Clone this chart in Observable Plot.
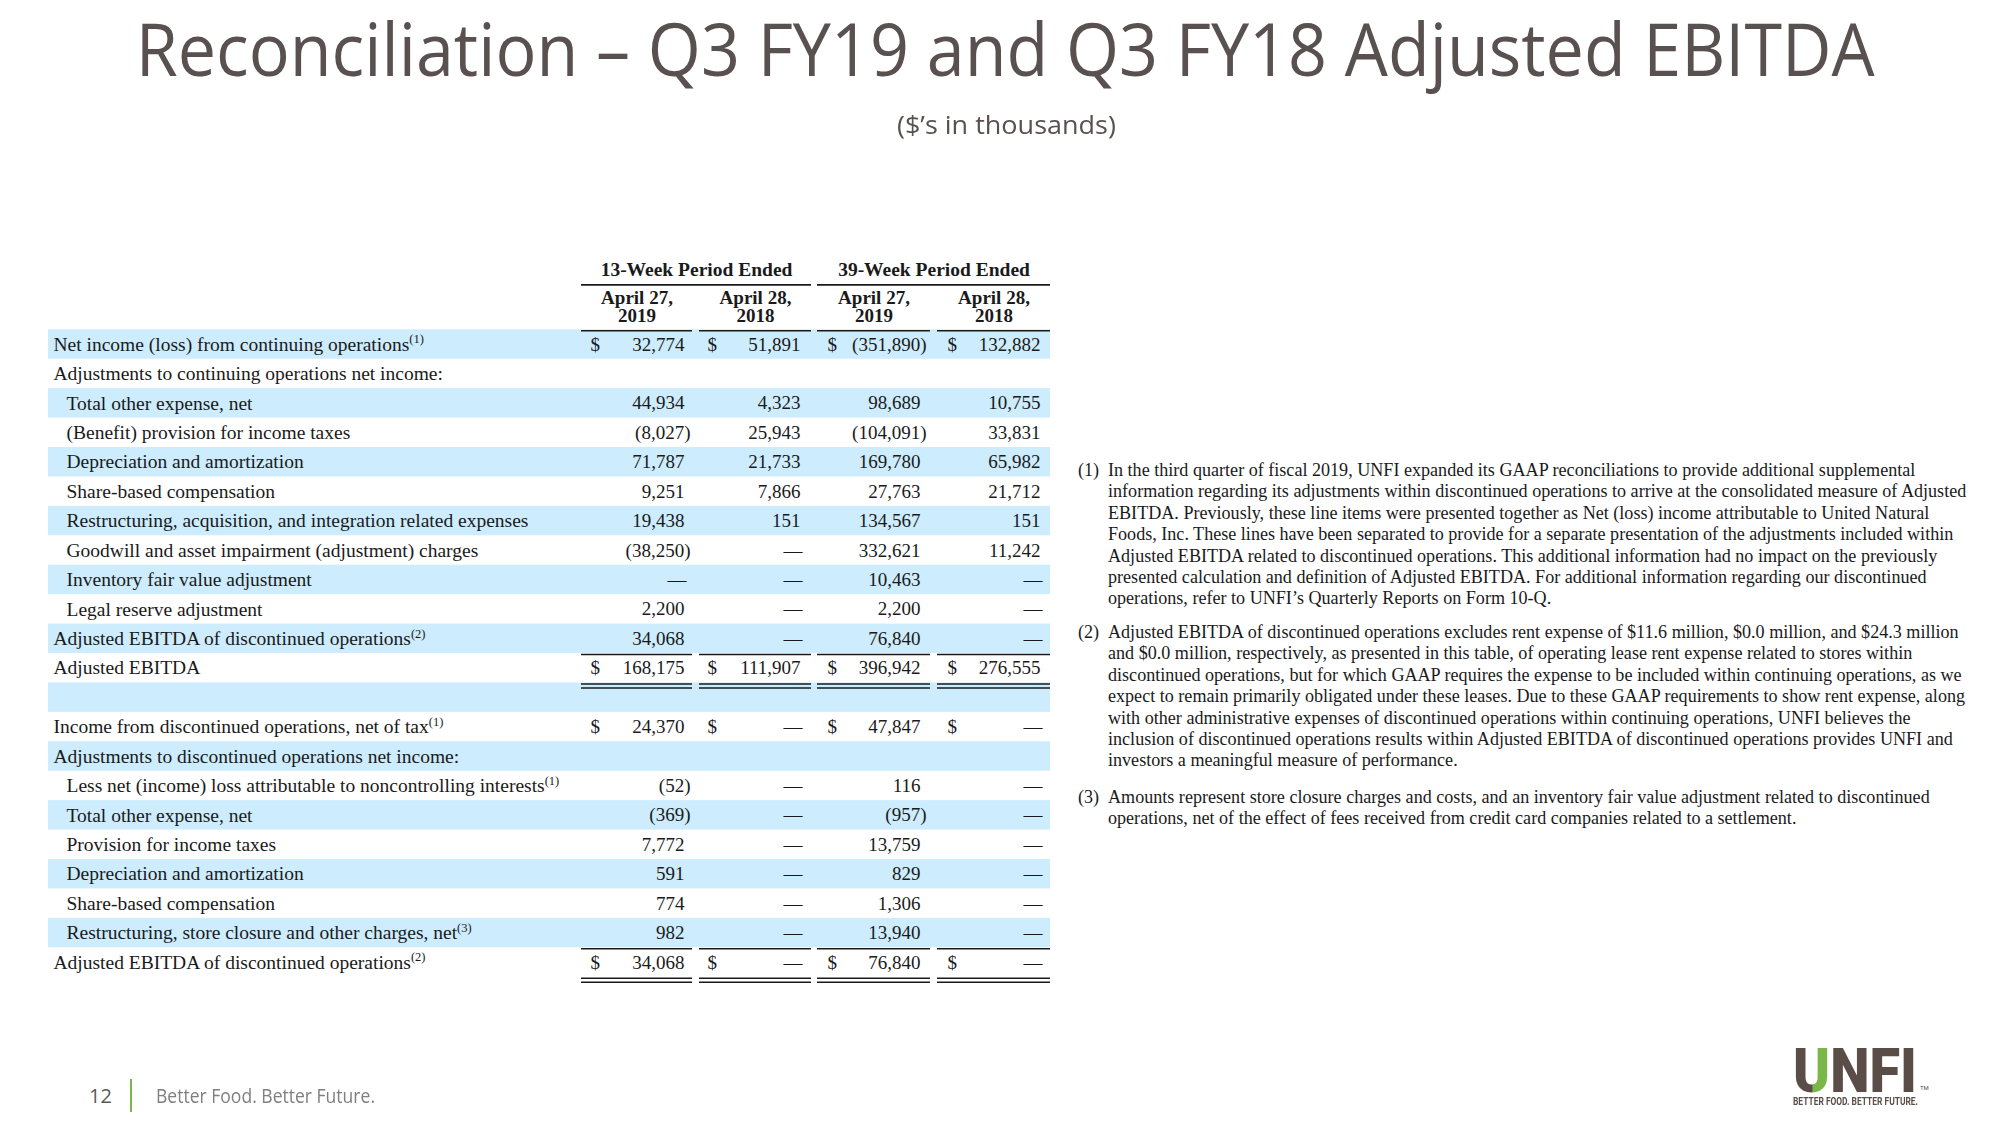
<!DOCTYPE html>
<html>
<head>
<meta charset="utf-8">
<script src="https://cdn.jsdelivr.net/npm/d3@7"></script>
<script src="https://cdn.jsdelivr.net/npm/@observablehq/plot@0.6"></script>
<style>
  html, body { margin: 0; padding: 0; background: #fff; overflow: hidden; }
  #page { position: relative; width: 2000px; height: 1125px; background: #fff; }
  .abs { position: absolute; white-space: nowrap; }
  .centerRow { position: absolute; left: 0; width: 2000px; text-align: center; line-height: 1; }
  .centerRow span { display: inline-block; white-space: nowrap; transform-origin: 50% 50%; }
  #title { font-family: "Open Sans", sans-serif; font-size: 74px; color: #595150; }
  #subtitle { font-family: "Open Sans", sans-serif; font-size: 26px; color: #595150; }
  #chart { position: absolute; left: 0; top: 160px; }
  .fn { position: absolute; font-family: "Liberation Serif", serif; font-size: 18.1px; color: #1a1a1a; line-height: 21.4px; white-space: nowrap; }
  .fnmark { position: absolute; }
  .foot { font-family: "Open Sans", sans-serif; font-size: 20px; line-height: 1; transform-origin: 0 50%; }
  .logo { font-family: Roboto, sans-serif; font-weight: 900; transform-origin: 0 50%; color: #5a4d47; }
</style>
</head>
<body>
<div id="page">
  <div class="centerRow" id="titleRow" style="top:11px;"><span id="title"></span></div>
  <div class="centerRow" id="subRow" style="top:111px;"><span id="subtitle"></span></div>
  <div id="chart"></div>
  <div id="notes"></div>
  <div class="abs foot" id="pageNum" style="left:89px; top:1086px; color:#595959;"></div>
  <div class="abs" style="left:130px; top:1079px; width:1.5px; height:33px; background:#7ab648;"></div>
  <div class="abs foot" id="tagline" style="left:156px; top:1086px; color:#7f7f7f;"></div>
  <div class="abs logo" id="logoMain" style="left:1793px; top:1049px; font-size:62px; line-height:44px;"></div>
  <div class="abs logo" id="logoTag" style="left:1793px; top:1097px; font-size:10px; line-height:9px; font-weight:700;"></div>
  <div class="abs" id="logoTm" style="left:1920px; top:1085px; font-family:Roboto; font-size:6px; line-height:6px; color:#5a4d47;">TM</div>
</div>
<script>
// ---------------- DATA ----------------
const titleText = "Reconciliation \u2013 Q3 FY19 and Q3 FY18 Adjusted EBITDA";
const subtitleText = "($\u2019s in thousands)";

const groupHeaders = ["13-Week Period Ended", "39-Week Period Ended"];
const dateHeaderLine1 = ["April 27,", "April 28,", "April 27,", "April 28,"];
const dateHeaderLine2 = ["2019", "2018", "2019", "2018"];

const rowLabels = [
  "Net income (loss) from continuing operations",
  "Adjustments to continuing operations net income:",
  "Total other expense, net",
  "(Benefit) provision for income taxes",
  "Depreciation and amortization",
  "Share-based compensation",
  "Restructuring, acquisition, and integration related expenses",
  "Goodwill and asset impairment (adjustment) charges",
  "Inventory fair value adjustment",
  "Legal reserve adjustment",
  "Adjusted EBITDA of discontinued operations",
  "Adjusted EBITDA",
  "",
  "Income from discontinued operations, net of tax",
  "Adjustments to discontinued operations net income:",
  "Less net (income) loss attributable to noncontrolling interests",
  "Total other expense, net",
  "Provision for income taxes",
  "Depreciation and amortization",
  "Share-based compensation",
  "Restructuring, store closure and other charges, net",
  "Adjusted EBITDA of discontinued operations"
];
const rowNotes = ["(1)","","","","","","","","","","(2)","","","(1)","","(1)","","","","","(3)","(2)"];
const rowIndent = [0,0,1,1,1,1,1,1,1,1,0,0,0,0,0,1,1,1,1,1,1,0];

// 0 = "—", null = blank
const q3FY19 = [32774, null, 44934, -8027, 71787, 9251, 19438, -38250, 0, 2200, 34068, 168175, null, 24370, null, -52, -369, 7772, 591, 774, 982, 34068];
const q3FY18 = [51891, null, 4323, 25943, 21733, 7866, 151, 0, 0, 0, 0, 111907, null, 0, null, 0, 0, 0, 0, 0, 0, 0];
const ytdFY19 = [-351890, null, 98689, -104091, 169780, 27763, 134567, 332621, 10463, 2200, 76840, 396942, null, 47847, null, 116, -957, 13759, 829, 1306, 13940, 76840];
const ytdFY18 = [132882, null, 10755, 33831, 65982, 21712, 151, 11242, 0, 0, 0, 276555, null, 0, null, 0, 0, 0, 0, 0, 0, 0];
const dollarRows = [0, 11, 13, 21];
const subtotalRows = [11, 21];

const footnotes = [
  {mark: "(1)", lines: [
    "In the third quarter of fiscal 2019, UNFI expanded its GAAP reconciliations to provide additional supplemental",
    "information regarding its adjustments within discontinued operations to arrive at the consolidated measure of Adjusted",
    "EBITDA. Previously, these line items were presented together as Net (loss) income attributable to United Natural",
    "Foods, Inc. These lines have been separated to provide for a separate presentation of the adjustments included within",
    "Adjusted EBITDA related to discontinued operations. This additional information had no impact on the previously",
    "presented calculation and definition of Adjusted EBITDA. For additional information regarding our discontinued",
    "operations, refer to UNFI\u2019s Quarterly Reports on Form 10-Q."
  ]},
  {mark: "(2)", lines: [
    "Adjusted EBITDA of discontinued operations excludes rent expense of $11.6 million, $0.0 million, and $24.3 million",
    "and $0.0 million, respectively, as presented in this table, of operating lease rent expense related to stores within",
    "discontinued operations, but for which GAAP requires the expense to be included within continuing operations, as we",
    "expect to remain primarily obligated under these leases. Due to these GAAP requirements to show rent expense, along",
    "with other administrative expenses of discontinued operations within continuing operations, UNFI believes the",
    "inclusion of discontinued operations results within Adjusted EBITDA of discontinued operations provides UNFI and",
    "investors a meaningful measure of performance."
  ]},
  {mark: "(3)", lines: [
    "Amounts represent store closure charges and costs, and an inventory fair value adjustment related to discontinued",
    "operations, net of the effect of fees received from credit card companies related to a settlement."
  ]}
];

const pageNumber = "12";
const taglineText = "Better Food. Better Future.";
const logoLetters = ["U", "NFI"];
const logoTagText = "BETTER FOOD. BETTER FUTURE.";

// ---------------- LAYOUT / STYLE ----------------
const ink = "#1a1a1a";
const shade = "#cdecfd";
const serif = "Liberation Serif, Times New Roman, serif";
const L = {
  rowTop: 169.3, rowBottom: 816.7,          // svg px of row -0.5 and 21.5
  bandX1: 48, bandX2: 1050,
  labelX: 53, indentX: 66,
  colRight: [684, 800, 920, 1040],
  colDollar: [590, 707, 827, 947],
  colLine: [[581, 692], [699, 811], [817, 930], [937, 1050]],
  groupLine: [[581, 811], [817, 1050]],
  parenHang: 6, dashHang: 2,
  yGroupText: -2.54, yGroupRule: -2.06, yDate1: -1.58, yDate2: -0.96, yDateRule: -0.5,
  labelFont: 19.5, numFont: 19, groupFont: 19.5, dateFont: 19, supFont: 12.5,
  fnMarkX: 1078, fnTextX: 1108, fnTops: [460, 622, 787]
};

// ---------------- BUILD ----------------
const columns = [q3FY19, q3FY18, ytdFY19, ytdFY18];
const rowIdx = rowLabels.map((_, i) => i);
const shadedRows = rowIdx.filter(i => i % 2 === 0);
const fmt = d3.format(",");

const cells = [];
columns.forEach((col, c) => col.forEach((v, r) => { if (v !== null) cells.push({r, c, v}); }));
const dollarCells = [];
dollarRows.forEach(r => L.colRight.forEach((_, c) => dollarCells.push({r, c})));

const singleRules = [];
L.groupLine.forEach(([x1, x2]) => singleRules.push({x1, x2, y: L.yGroupRule}));
L.colLine.forEach(([x1, x2]) => singleRules.push({x1, x2, y: L.yDateRule}));
subtotalRows.forEach(r => L.colLine.forEach(([x1, x2]) => singleRules.push({x1, x2, y: r - 0.5})));
const doubleRules = [];
subtotalRows.forEach(r => L.colLine.forEach(([x1, x2]) => doubleRules.push({x1, x2, y: r + 0.5})));

const dateCells = [];
dateHeaderLine1.forEach((t, c) => dateCells.push({c, t, y: L.yDate1}));
dateHeaderLine2.forEach((t, c) => dateCells.push({c, t, y: L.yDate2}));

const textBase = {fontFamily: serif, fill: ink};
const labelRows = rowIdx.filter(i => rowLabels[i] !== "");

const chart = Plot.plot({
  width: 2000,
  height: 880,
  margin: 0,
  style: {background: "transparent"},
  x: {domain: [0, 2000], range: [0, 2000], axis: null},
  y: {domain: [-0.5, 21.5], range: [L.rowTop, L.rowBottom], axis: null},
  marks: [
    Plot.rect(shadedRows, {x1: () => L.bandX1, x2: () => L.bandX2, y1: d => d - 0.5, y2: d => d + 0.5, fill: shade}),
    Plot.ruleY(singleRules, {x1: "x1", x2: "x2", y: "y", dy: 1, stroke: ink, strokeWidth: 1.6}),
    Plot.ruleY(doubleRules, {x1: "x1", x2: "x2", y: "y", dy: 1, stroke: ink, strokeWidth: 1.6}),
    Plot.ruleY(doubleRules, {x1: "x1", x2: "x2", y: "y", dy: 5, stroke: ink, strokeWidth: 1.6}),
    Plot.text(labelRows, {...textBase, fontSize: L.labelFont, x: i => rowIndent[i] ? L.indentX : L.labelX, y: i => i,
      text: i => rowLabels[i], textAnchor: "start", ariaLabel: "row label"}),
    Plot.text(dollarCells, {...textBase, fontSize: L.numFont, x: d => L.colDollar[d.c], y: d => d.r, text: () => "$", textAnchor: "start"}),
    Plot.text(cells, {...textBase, fontSize: L.numFont,
      x: d => L.colRight[d.c] + (d.v < 0 ? L.parenHang : d.v === 0 ? L.dashHang : 0),
      y: d => d.r,
      text: d => d.v === 0 ? "\u2014" : d.v < 0 ? `(${fmt(-d.v)})` : fmt(d.v),
      textAnchor: "end"}),
    Plot.text(groupHeaders, {...textBase, fontSize: L.groupFont, fontWeight: "bold",
      x: (d, i) => (L.groupLine[i][0] + L.groupLine[i][1]) / 2, y: () => L.yGroupText, text: d => d}),
    Plot.text(dateCells, {...textBase, fontSize: L.dateFont, fontWeight: "bold",
      x: d => (L.colLine[d.c][0] + L.colLine[d.c][1]) / 2, y: d => d.y, text: d => d.t})
  ]
});

// superscript footnote markers on row labels (matched by label text)
const noteByLabel = new Map();
rowLabels.forEach((lab, i) => { if (rowNotes[i]) noteByLabel.set(lab, rowNotes[i]); });
d3.select(chart).selectAll("text").each(function () {
  const lab = this.textContent;
  if (this.childElementCount === 0 && noteByLabel.has(lab)) {
    d3.select(this).append("tspan").attr("dy", "-0.6em").attr("font-size", L.supFont).text(noteByLabel.get(lab));
  }
});
document.getElementById("chart").appendChild(chart);

// footnotes
const notes = d3.select("#notes");
footnotes.forEach((f, k) => {
  const div = notes.append("div").attr("class", "fn").style("left", "0px").style("top", L.fnTops[k] + "px");
  div.append("div").attr("class", "fnmark").style("left", L.fnMarkX + "px").style("top", "0px").text(f.mark);
  const body = div.append("div").style("position", "absolute").style("left", L.fnTextX + "px").style("top", "0px");
  f.lines.forEach(line => body.append("div").text(line));
});

// header / footer text
function fitWidth(el, target) {
  const w = el.getBoundingClientRect().width;
  if (w > 0) el.style.transform = `scaleX(${target / w})`;
}
const t = document.getElementById("title"); t.textContent = titleText;
const s = document.getElementById("subtitle"); s.textContent = subtitleText;
document.getElementById("titleRow").style.left = "5px";
document.getElementById("subRow").style.left = "6px";
fitWidth(t, 1739);
fitWidth(s, 219);
document.getElementById("pageNum").textContent = pageNumber;
const tag = document.getElementById("tagline"); tag.textContent = taglineText; fitWidth(tag, 219);
const lm = document.getElementById("logoMain");
lm.innerHTML = `<span style="background:linear-gradient(90deg,#5a4d47 52%,#7ab648 52%);-webkit-background-clip:text;background-clip:text;color:transparent;">${logoLetters[0]}</span>${logoLetters[1]}`;
fitWidth(lm, 124);
const lt = document.getElementById("logoTag"); lt.textContent = logoTagText; fitWidth(lt, 125);
</script>
</body>
</html>
